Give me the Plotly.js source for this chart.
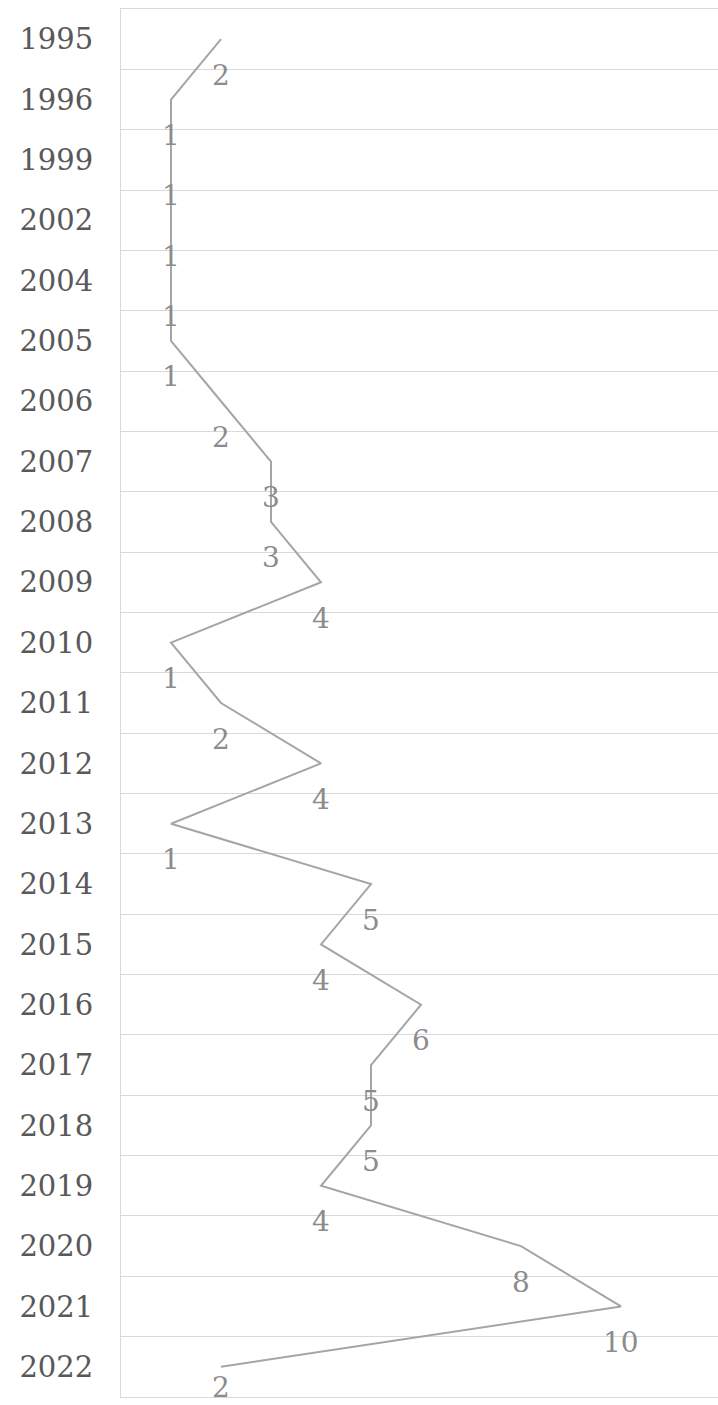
<!DOCTYPE html>
<html>
<head>
<meta charset="utf-8">
<script src="https://cdn.plot.ly/plotly-3.0.1.min.js"></script>
<style>html,body{margin:0;padding:0;background:#fff;}#chart{width:718px;height:1405px;}</style>
</head>
<body>
<div id="chart"></div>
<script>
const years = ['1995','1996','1999','2002','2004','2005','2006','2007','2008','2009','2010','2011','2012','2013','2014','2015','2016','2017','2018','2019','2020','2021','2022'];
const counts = [2,1,1,1,1,1,2,3,3,4,1,2,4,1,5,4,6,5,5,4,8,10,2];

const FONT = 'DejaVu Serif, Liberation Serif, serif';

const trace = {
  type: 'scatter',
  mode: 'lines',
  x: counts,
  y: years,
  line: {color: '#a5a5a5', width: 2},
  hoverinfo: 'skip'
};

const annotations = counts.map((v, i) => ({
  x: v, y: i, xref: 'x', yref: 'y',
  text: String(v), showarrow: false,
  yshift: i === counts.length - 1 ? -21 : -36,
  font: {family: FONT, size: 28, color: '#8c8c8c'}
}));

const layout = {
  width: 718, height: 1405,
  margin: {l: 121, r: 0, t: 9, b: 8},
  paper_bgcolor: '#ffffff', plot_bgcolor: '#ffffff',
  showlegend: false,
  xaxis: {
    range: [0, 11.94], showticklabels: false, showgrid: false, zeroline: false,
    showline: true, mirror: true, linecolor: '#d9d9d9', linewidth: 1, ticks: ''
  },
  yaxis: {
    type: 'category', categoryorder: 'array', categoryarray: years,
    range: [22.5, -0.5], tickson: 'boundaries', showgrid: true,
    gridcolor: '#d9d9d9', gridwidth: 1, ticks: '', ticklen: 0,
    showline: true, linecolor: '#d9d9d9', linewidth: 1,
    tickfont: {family: FONT, size: 29, color: '#595959'},
    ticklabelstandoff: 21
  },
  annotations: annotations
};

Plotly.newPlot('chart', [trace], layout, {displayModeBar: false, staticPlot: true});
</script>
</body>
</html>
